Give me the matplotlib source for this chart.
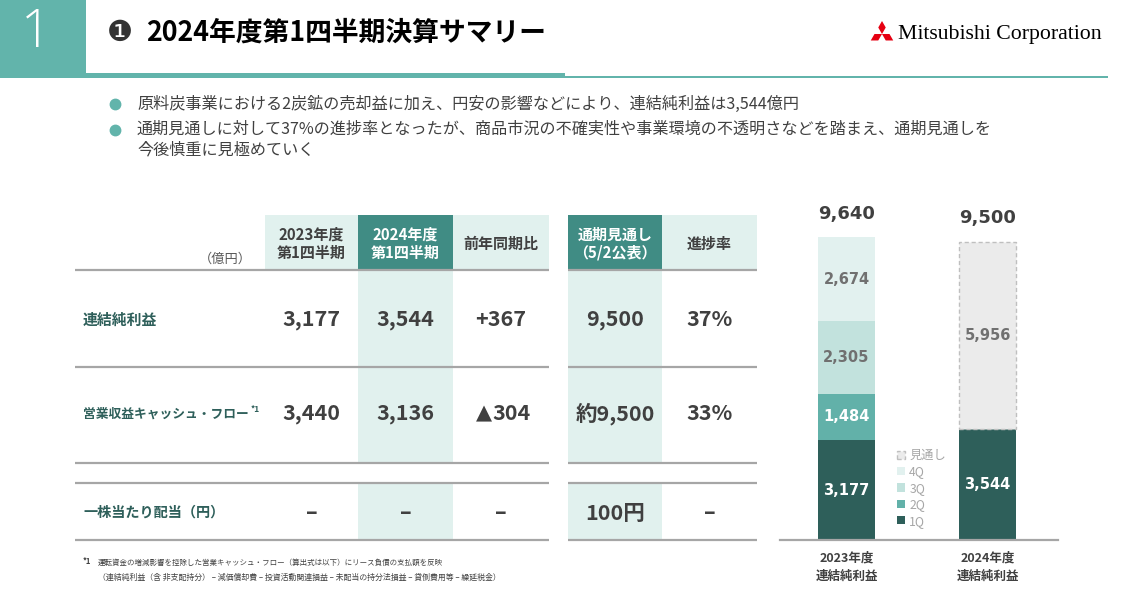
import matplotlib
matplotlib.use('Agg')
import matplotlib.pyplot as plt
import matplotlib.patches as patches
import numpy as np

plt.rcParams['font.family'] = ['Noto Sans CJK JP', 'DejaVu Sans']

# ---- data ----
title = '2024年度第1四半期決算サマリー'
bullets = [
    '原料炭事業における2炭鉱の売却益に加え、円安の影響などにより、連結純利益は3,544億円',
    '通期見通しに対して37%の進捗率となったが、商品市況の不確実性や事業環境の不透明さなどを踏まえ、通期見通しを\n今後慎重に見極めていく',
]
col_headers = ['2023年度\n第1四半期', '2024年度\n第1四半期', '前年同期比', '通期見通し\n（5/2公表）', '進捗率']
row_labels = ['連結純利益', '営業収益キャッシュ・フロー', '一株当たり配当（円）']
cells = [
    ['3,177', '3,544', '+367', '9,500', '37%'],
    ['3,440', '3,136', '▲304', '約9,500', '33%'],
    ['–', '–', '–', '100円', '–'],
]
footnote = ['運転資金の増減影響を控除した営業キャッシュ・フロー（算出式は以下）にリース負債の支払額を反映',
            '（連結純利益（含 非支配持分） – 減価償却費 – 投資活動関連損益 – 未配当の持分法損益 – 貸倒費用等 – 繰延税金）']

bar_cats = ['2023年度\n連結純利益', '2024年度\n連結純利益']
q_labels = ['1Q', '2Q', '3Q', '4Q']
fy2023_q = [3177, 1484, 2305, 2674]
fy2024_q1 = 3544
fy2024_forecast = 9500

# ---- colours ----
TEAL = '#62b4ab'
DARK_HEAD = '#408c84'
LIGHT = '#e1f1ee'
Q_COLORS = ['#2e5f5a', '#62b1a9', '#c2e2dd', '#e2f1ef']
FC_COLOR = '#ebebeb'
TXT = '#404040'
GRID = '#a6a6a6'

W, H = 1128, 601
fig = plt.figure(figsize=(W / 100, H / 100), dpi=100)
ax = fig.add_axes([0, 0, 1, 1])
ax.set_xlim(0, W)
ax.set_ylim(H, 0)
ax.axis('off')

# ---- header ----
ax.add_patch(patches.Rectangle((0, 0), 86, 78, color=TEAL, lw=0))
ax.add_patch(patches.Rectangle((86, 72.7), 479, 5.3, color=TEAL, lw=0))
ax.add_patch(patches.Rectangle((565, 75.7), 543, 2.4, color=TEAL, lw=0))
ax.text(36, 33, '1', color='white', fontsize=38, fontweight='light',
        family=['Open Sans', 'DejaVu Sans'], ha='center', va='center')
ax.text(107, 33, '❶', color='#333333', fontsize=21, family=['DejaVu Sans'],
        ha='left', va='center')
ax.text(146, 33, title, color='black', fontsize=19.3, fontweight='bold',
        ha='left', va='center')

# logo
cx, cy, s = 882, 34, 7.5
for ang in [90, 210, 330]:
    th = np.radians(ang)
    pts = []
    for a, r in [(0, 0), (-30, s), (0, s * np.sqrt(3)), (30, s)]:
        t = th + np.radians(a)
        pts.append((cx + r * np.cos(t), cy - r * np.sin(t)))
    ax.add_patch(patches.Polygon(pts, closed=True, color='#e60012', lw=0))
ax.text(898, 34, 'Mitsubishi Corporation', family=['Liberation Serif', 'DejaVu Serif'],
        fontsize=15.7, color='black', ha='left', va='center')

# ---- bullets ----
for y in [104, 130]:
    ax.plot(115, y, 'o', color=TEAL, ms=7.5)
ax.text(137, 104, bullets[0], color=TXT, fontsize=11.6, ha='left', va='center')
ax.text(137, 120.5, bullets[1], color=TXT, fontsize=11.6, ha='left', va='top', linespacing=1.3)

# ---- table ----
col_x = [265, 358, 453, 568, 662]
col_w = [93, 95, 96, 94, 95]
head_bg = [LIGHT, DARK_HEAD, LIGHT, DARK_HEAD, LIGHT]
head_fg = [TXT, 'white', TXT, 'white', TXT]
head_top, head_bot = 215, 270
row_y = [320, 414, 513]
lines_y = [270, 367, 463, 483, 540]

for x, w, bg, fg, lab in zip(col_x, col_w, head_bg, head_fg, col_headers):
    ax.add_patch(patches.Rectangle((x, head_top), w, head_bot - head_top, color=bg, lw=0))
    ax.text(x + w / 2, (head_top + head_bot) / 2 + 1, lab, color=fg, fontsize=10.8,
            fontweight='bold', ha='center', va='center', linespacing=1.15)
# highlighted columns
for i in [1, 3]:
    ax.add_patch(patches.Rectangle((col_x[i], 270), col_w[i], 463 - 270, color=LIGHT, lw=0))
    ax.add_patch(patches.Rectangle((col_x[i], 483), col_w[i], 540 - 483, color=LIGHT, lw=0))

for y in lines_y:
    ax.plot([75, 549], [y, y], color=GRID, lw=1.6, solid_capstyle='butt')
    ax.plot([568, 757], [y, y], color=GRID, lw=1.6, solid_capstyle='butt')

ax.text(252, 259, '（億円）', color='#595959', fontsize=9.5, ha='right', va='center')

label_sizes = [10.7, 9.2, 10.2]
for y, lab, fs, row in zip(row_y, row_labels, label_sizes, cells):
    ax.text(83, y, lab, color='#2e5f5a', fontsize=fs, fontweight='bold',
            ha='left', va='center')
    for x, w, val in zip(col_x, col_w, row):
        xc = x + w / 2
        if val.startswith('▲'):
            ax.text(xc - 9, y + 5.5, val[0], color=TXT, fontsize=15, family=['DejaVu Sans'],
                    ha='right', va='baseline')
            ax.text(xc - 9, y, val[1:], color=TXT, fontsize=15.5, fontweight='bold',
                    ha='left', va='center')
        else:
            ax.text(xc, y, val, color=TXT, fontsize=15.5, fontweight='bold',
                    ha='center', va='center')
ax.text(251, 410, '*1', color='#2e5f5a', fontsize=6, fontweight='bold', ha='left', va='center')

# footnote
ax.text(83, 561, '*1', color=TXT, fontsize=5.5, fontweight='bold', ha='left', va='center')
ax.text(98, 563, footnote[0], color=TXT, fontsize=5.4, ha='left', va='center')
ax.text(98, 577, footnote[1], color=TXT, fontsize=5.7, ha='left', va='center')

# ---- stacked bar chart ----
bx = fig.add_axes([780 / W, (H - 540) / H, 278 / W, 340 / H])
bx.set_xlim(-0.472, 1.5)
bx.set_ylim(0, 10830)
bx.patch.set_alpha(0)
bw = 0.404
handles = []
bottom = 0
for val, col, lab in zip(fy2023_q, Q_COLORS, q_labels):
    b = bx.bar(0, val, bw, bottom=bottom, color=col, label=lab)
    handles.append(b)
    tc = 'white' if col in Q_COLORS[:2] else '#707070'
    bx.text(0, bottom + val / 2, f'{val:,}', color=tc, fontsize=10.5, fontweight='bold',
            family=['DejaVu Sans'], ha='center', va='center')
    bottom += val
bx.annotate(f'{sum(fy2023_q):,}', (0, sum(fy2023_q)), xytext=(0, 17), textcoords='offset points',
            ha='center', va='center', fontsize=13, fontweight='bold', color=TXT, family=['DejaVu Sans'])

bx.bar(1, fy2024_q1, bw, color=Q_COLORS[0])
bx.text(1, fy2024_q1 / 2, f'{fy2024_q1:,}', color='white', fontsize=10.5, fontweight='bold',
        family=['DejaVu Sans'], ha='center', va='center')
rest = fy2024_forecast - fy2024_q1
fb = bx.bar(1, rest, bw, bottom=fy2024_q1, color=FC_COLOR, edgecolor='#bfbfbf',
            linestyle=(0, (3, 2)), lw=1, label='見通し')
bx.text(1, fy2024_q1 + rest / 2, f'{rest:,}', color='#707070', fontsize=10.5, fontweight='bold',
        family=['DejaVu Sans'], ha='center', va='center')
bx.annotate(f'{fy2024_forecast:,}', (1, fy2024_forecast), xytext=(0, 17), textcoords='offset points',
            ha='center', va='center', fontsize=13, fontweight='bold', color=TXT, family=['DejaVu Sans'])

for sp in ['top', 'right', 'left']:
    bx.spines[sp].set_visible(False)
bx.spines['bottom'].set_color(GRID)
bx.spines['bottom'].set_linewidth(1.6)
bx.set_yticks([])
bx.set_xticks([0, 1])
bx.set_xticklabels(bar_cats, fontsize=9, fontweight='bold', color=TXT, linespacing=1.6)
bx.tick_params(axis='x', length=0, pad=8)

leg_handles = [fb] + handles[::-1]
leg_labels = ['見通し'] + q_labels[::-1]
fig.legend(leg_handles, leg_labels, loc='upper left', bbox_to_anchor=(897 / W, 1 - 449 / H),
           frameon=False, fontsize=8.8, handlelength=0.65, handleheight=0.65,
           handletextpad=0.35, labelspacing=0.28, borderpad=0, borderaxespad=0,
           labelcolor='#a6a6a6')

fig.savefig('out.png', dpi=100)
